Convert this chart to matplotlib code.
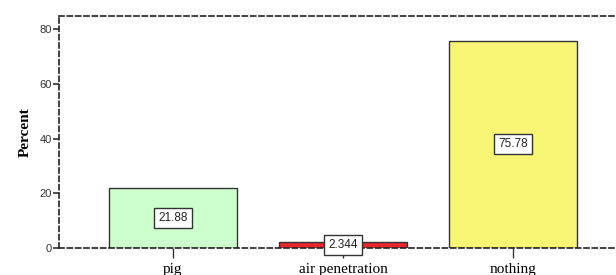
import matplotlib
matplotlib.use('Agg')
import matplotlib.pyplot as plt

categories = ['pig', 'air penetration', 'nothing']
percent = [21.88, 2.344, 75.78]
value_labels = ['21.88', '2.344', '75.78']
bar_colors = ['#ccffcc', '#e8262b', '#f8f674']
yticks = [0, 20, 40, 60, 80]

fig = plt.figure(figsize=(6.16, 2.75), dpi=100)
ax = fig.add_axes([0.0958, 0.0982, 0.9042, 0.8436])

x = range(len(categories))
ax.bar(x, percent, width=0.753, color=bar_colors, edgecolor='#333333', linewidth=1.0, zorder=2)

for xi, v, lab in zip(x, percent, value_labels):
    ax.text(xi, v / 2, lab, ha='center', va='center', fontsize=8.5, family='Liberation Sans',
            color='#222222',
            bbox=dict(boxstyle='square,pad=0.35', facecolor='white', edgecolor='#333333', linewidth=1.0),
            zorder=4)

ax.set_xlim(-0.67, 2.606)
ax.set_ylim(0, 84.75)
ax.set_yticks(yticks)
ax.set_yticklabels([str(t) for t in yticks], family='Liberation Sans', fontsize=8, color='#333333')
ax.set_xticks(list(x))
ax.set_xticklabels(categories, family='Liberation Serif', fontsize=11)
ax.tick_params(axis='y', length=4, width=1.2, pad=1, color='#333333')
ax.tick_params(axis='x', length=7, width=1.0, pad=4, color='#333333')

ax.set_ylabel('Percent', family='Liberation Serif', fontweight='bold', fontsize=11, labelpad=6)

for side in ['left', 'top', 'bottom']:
    ax.spines[side].set_linestyle((0, (3, 2)))
    ax.spines[side].set_linewidth(1.2)
    ax.spines[side].set_color('#222222')
ax.spines['bottom'].set_zorder(3)
ax.spines['right'].set_visible(False)

plt.savefig('out.png', dpi=100)
